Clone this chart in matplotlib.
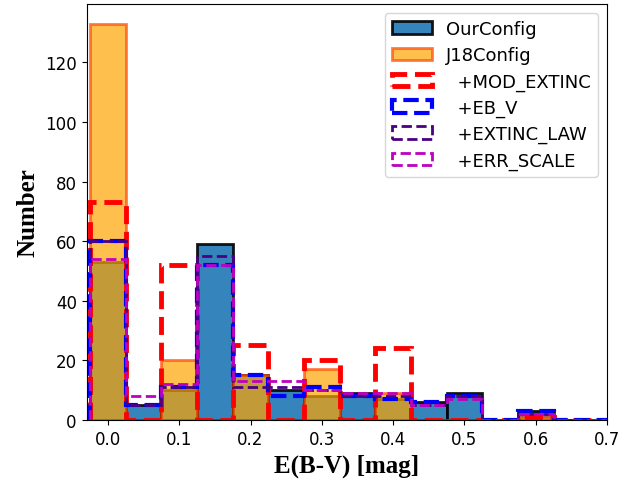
import numpy as np
import matplotlib
matplotlib.use("Agg")
import matplotlib.pyplot as plt

# E(B-V) bin centres and counts per configuration
ebv_centres = [0.0, 0.05, 0.1, 0.15, 0.2, 0.25, 0.3, 0.35, 0.4, 0.45, 0.5, 0.55, 0.6, 0.65, 0.7]
our_config = [53, 5, 10, 59, 15, 10, 8, 9, 7, 6, 9, 0, 3, 0, 0]
j18_config = [133, 0, 20, 0, 15, 0, 17, 0, 9, 0, 0, 0, 1, 0, 0]
mod_extinc = [73, 0, 52, 0, 25, 0, 20, 0, 24, 0, 0, 0, 1, 0, 0]
eb_v = [60, 5, 11, 52, 15, 8, 11, 8, 7, 6, 8, 0, 3, 0, 0]
extinc_law = [60, 5, 11, 55, 11, 11, 10, 8, 8, 5, 8, 0, 2, 0, 0]
err_scale = [54, 8, 12, 52, 13, 13, 10, 9, 9, 5, 7, 0, 2, 0, 0]

bins = np.arange(-0.025, 0.75, 0.05)

fig = plt.figure(figsize=(6.41, 4.81), dpi=100)
ax = fig.add_axes([0.135, 0.125, 0.812, 0.865])

ax.hist(ebv_centres, bins=bins, weights=our_config, color="#1f77b4", alpha=0.9,
        edgecolor="black", linewidth=2, label="OurConfig")
ax.hist(ebv_centres, bins=bins, weights=j18_config, color="orange", alpha=0.7,
        edgecolor="orangered", linewidth=2, label="J18Config")

step_sets = [
    (mod_extinc, "red", 3.5, "  +MOD_EXTINC"),
    (eb_v, "blue", 3, "  +EB_V"),
    (extinc_law, "indigo", 2, "  +EXTINC_LAW"),
    (err_scale, "m", 2, "  +ERR_SCALE"),
]
for counts, col, lw, lab in step_sets:
    ax.hist(ebv_centres, bins=bins, weights=counts, histtype="step",
            color=col, linestyle="--", linewidth=lw, label=lab)

ax.set_xlim(-0.03, 0.7)
ax.set_xticks(np.arange(0, 0.71, 0.1))
ax.set_yticks(range(0, 121, 20))
ax.tick_params(labelsize=12)
ax.set_xlabel("E(B-V) [mag]", fontsize=18, fontweight="bold", family="Liberation Serif")
ax.set_ylabel("Number", fontsize=18, fontweight="bold", family="Liberation Serif")
ax.legend(loc="upper right", fontsize=13, labelspacing=0.45, handlelength=2.2)

fig.savefig("out.png", dpi=100)
